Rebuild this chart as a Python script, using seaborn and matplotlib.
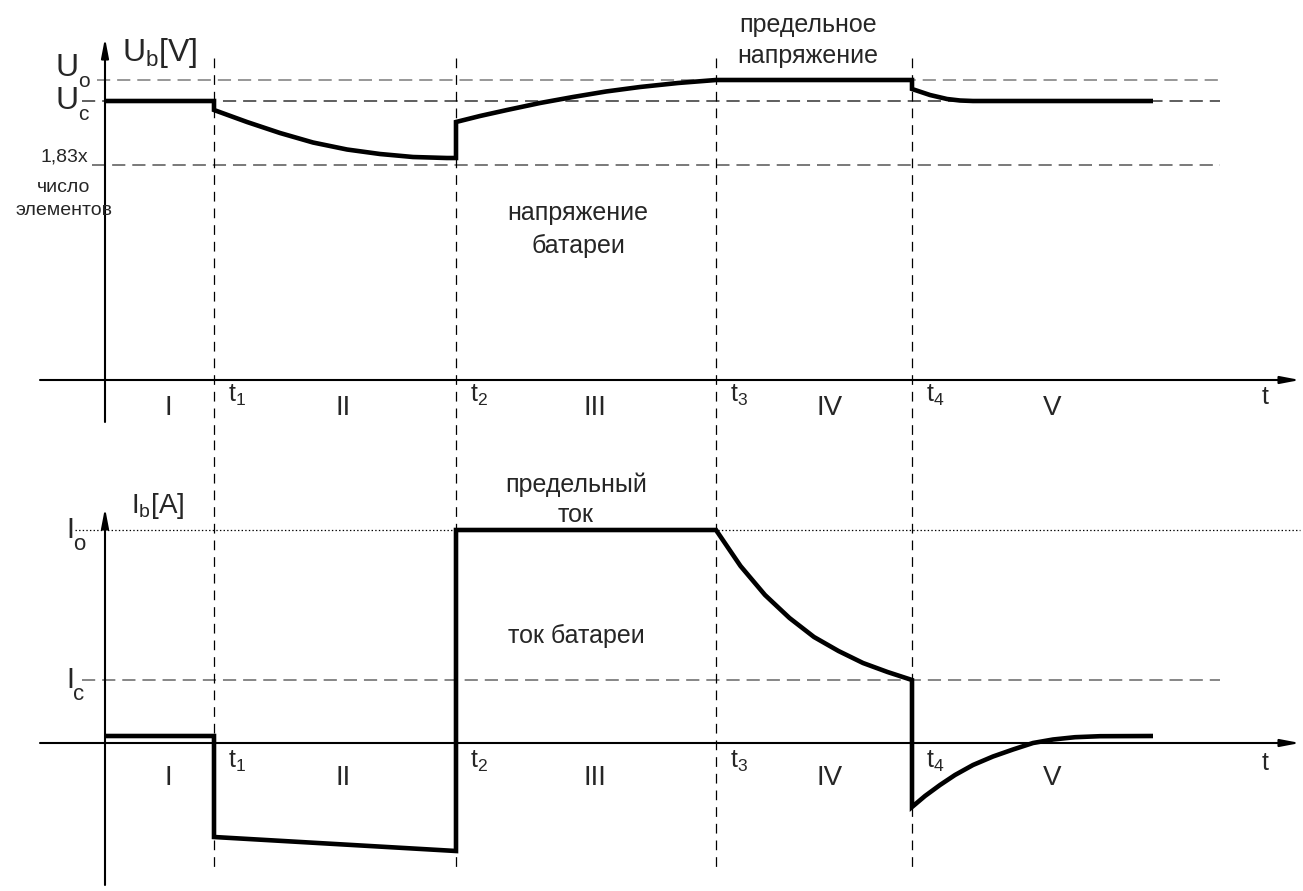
import matplotlib
matplotlib.use("Agg")
import matplotlib.pyplot as plt
import seaborn as sns
import pandas as pd

# ---------------- data (time in arbitrary units, levels in arbitrary units) -------------
t_events = [1.09, 3.51, 6.11, 8.07]
event_labels = ["t$_1$", "t$_2$", "t$_3$", "t$_4$"]
phase_labels = ["I", "II", "III", "IV", "V"]
phase_pos = [0.63, 2.38, 4.90, 7.25, 9.47]

U_o, U_c, U_min = 3.00, 2.79, 2.15
I_o, I_c = 2.13, 0.63

t_u = [0.00, 1.09, 1.09, 1.42, 1.75, 2.08, 2.42, 2.75, 3.08, 3.42, 3.51,
       3.51, 3.75, 4.02, 4.35, 4.68, 5.01, 5.35, 5.73, 6.11,
       8.07, 8.07, 8.25, 8.42, 8.55, 8.68, 10.48]
u_b = [2.79, 2.79, 2.70, 2.58, 2.47, 2.375, 2.305, 2.26, 2.23, 2.22, 2.22,
       2.58, 2.64, 2.70, 2.77, 2.83, 2.885, 2.93, 2.97, 3.00,
       3.00, 2.91, 2.85, 2.81, 2.795, 2.79, 2.79]

t_i = [0.00, 1.09, 1.09, 3.51, 3.51, 6.11,
       6.355, 6.60, 6.845, 7.09, 7.335, 7.58, 7.825, 8.07,
       8.07, 8.20, 8.35, 8.50, 8.68, 8.88, 9.08, 9.28, 9.48, 9.70, 9.95, 10.48]
i_b = [0.07, 0.07, -0.94, -1.08, 2.13, 2.13,
       1.77, 1.48, 1.25, 1.06, 0.92, 0.80, 0.71, 0.63,
       -0.64, -0.53, -0.42, -0.32, -0.22, -0.135, -0.065, 0.00, 0.035, 0.058, 0.068, 0.07]

df_u = pd.DataFrame({"t": t_u, "U": u_b})
df_i = pd.DataFrame({"t": t_i, "I": i_b})

# ---------------- style ----------------
sns.set_style("white")
plt.rcParams["font.family"] = ["Liberation Sans", "DejaVu Sans"]
plt.rcParams["mathtext.default"] = "regular"
plt.rcParams["lines.scale_dashes"] = False

W, H = 1303, 891
fig = plt.figure(figsize=(W / 100, H / 100), dpi=100)
ax_u = fig.add_axes([0, 451 / H, 1, 440 / H])
ax_i = fig.add_axes([0, 0, 1, 451 / H])

XL = (-1.05, 11.98)
ax_u.set_xlim(*XL); ax_u.set_ylim(-0.60, 3.80)
ax_i.set_xlim(*XL); ax_i.set_ylim(-1.48, 3.03)

CURVE_LW = 3.3
AX_LW = 1.5
arrow_kw = dict(arrowstyle="-|>,head_length=1.15,head_width=0.22", lw=AX_LW,
                color="black", shrinkA=0, shrinkB=0, mutation_scale=10)

for ax in (ax_u, ax_i):
    ax.axis("off")

# ---- reference lines (top) ----
ref_dash = (9.5, 5.0)
ax_u.plot([-0.08, 11.15], [U_o, U_o], color="#7a7a7a", lw=1.1, dashes=ref_dash, clip_on=False)
ax_u.plot([-0.23, 11.15], [U_c, U_c], color="#333333", lw=1.1, dashes=ref_dash, clip_on=False)
ax_u.plot([-0.13, 11.15], [U_min, U_min], color="#555555", lw=1.1, dashes=ref_dash, clip_on=False)
# ---- reference lines (bottom) ----
ax_i.plot([-0.30, 11.95], [I_o, I_o], color="black", lw=0.9, dashes=(1.0, 1.6), clip_on=False)
ax_i.plot([-0.23, 11.15], [I_c, I_c], color="#666666", lw=1.1, dashes=ref_dash, clip_on=False)

# ---- vertical event lines ----
for te in t_events:
    ax_u.plot([te, te], [3.22, -0.60], color="black", lw=0.9, dashes=(7, 5), clip_on=False)
    ax_i.plot([te, te], [3.03, -1.29], color="black", lw=0.9, dashes=(7, 5), clip_on=False)

# ---- axes arrows ----
ax_u.annotate("", xy=(11.95, 0), xytext=(-0.65, 0), arrowprops=arrow_kw, annotation_clip=False)
ax_u.annotate("", xy=(0, 3.42), xytext=(0, -0.42), arrowprops=arrow_kw, annotation_clip=False)
ax_i.annotate("", xy=(11.95, 0), xytext=(-0.65, 0), arrowprops=arrow_kw, annotation_clip=False)
ax_i.annotate("", xy=(0, 2.35), xytext=(0, -1.42), arrowprops=arrow_kw, annotation_clip=False)

# ---- curves ----
sns.lineplot(data=df_u, x="t", y="U", ax=ax_u, sort=False, estimator=None,
             color="black", lw=CURVE_LW, legend=False)
sns.lineplot(data=df_i, x="t", y="I", ax=ax_i, sort=False, estimator=None,
             color="black", lw=CURVE_LW, legend=False)
for ln in ax_u.lines[-1:] + ax_i.lines[-1:]:
    ln.set_solid_joinstyle("miter")
    ln.set_solid_capstyle("butt")
    ln.set_clip_on(False)

# ---- event and phase labels ----
for ax, ylab_t, ylab_p in ((ax_u, -0.22, -0.35), (ax_i, -0.25, -0.42)):
    for te, lab in zip(t_events, event_labels):
        ax.text(te + 0.14, ylab_t, lab, fontsize=18, ha="left", va="baseline")
    for xp, lab in zip(phase_pos, phase_labels):
        ax.text(xp, ylab_p, lab, fontsize=20, ha="center", va="baseline")
    ax.text(11.57, ylab_t - 0.02, "t", fontsize=18, ha="left", va="baseline")


def ftext(px, py, s, **kw):
    fig.text(px / W, 1 - py / H, s, **kw)


# top panel texts
ftext(122, 61, "U$_b$[V]", fontsize=23, ha="left", va="baseline")
ftext(56, 76, "U", fontsize=23, ha="left", va="baseline")
ftext(78, 87, "o", fontsize=15, ha="left", va="baseline")
ftext(56, 109, "U", fontsize=23, ha="left", va="baseline")
ftext(78, 120, "c", fontsize=15, ha="left", va="baseline")
ftext(64, 162, "1,83x", fontsize=14, ha="center", va="baseline")
ftext(64, 192, "число", fontsize=14, ha="center", va="baseline")
ftext(64, 215, "элементов", fontsize=14, ha="center", va="baseline")
ftext(808, 32, "предельное", fontsize=18, ha="center", va="baseline")
ftext(808, 63, "напряжение", fontsize=18, ha="center", va="baseline")
ftext(578, 220, "напряжение", fontsize=18, ha="center", va="baseline")
ftext(578, 253, "батареи", fontsize=18, ha="center", va="baseline")

# bottom panel texts
ftext(131, 513, "I$_b$[A]", fontsize=20, ha="left", va="baseline")
ftext(66, 538, "I", fontsize=21, ha="left", va="baseline")
ftext(73, 550, "o", fontsize=16, ha="left", va="baseline")
ftext(66, 688, "I", fontsize=21, ha="left", va="baseline")
ftext(73, 700, "c", fontsize=16, ha="left", va="baseline")
ftext(576, 492, "предельный", fontsize=18, ha="center", va="baseline")
ftext(576, 522, "ток", fontsize=18, ha="center", va="baseline")
ftext(576, 643, "ток батареи", fontsize=18, ha="center", va="baseline")

fig.savefig("out.png", dpi=100, facecolor="white")
